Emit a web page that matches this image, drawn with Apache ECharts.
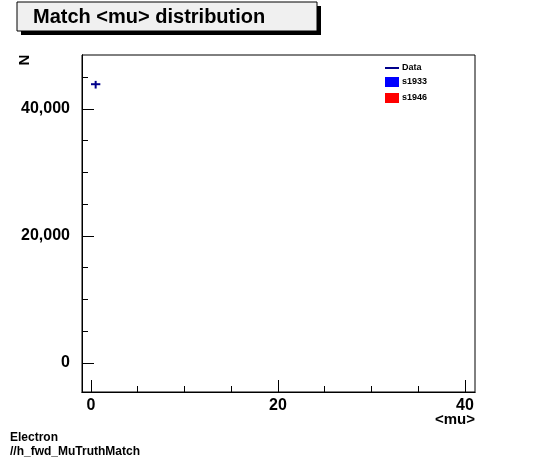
<!DOCTYPE html>
<html><head><meta charset="utf-8">
<script src="https://cdn.jsdelivr.net/npm/echarts@6/dist/echarts.min.js"></script>
<style>html,body{margin:0;padding:0;background:#fff}#c{width:546px;height:462px}</style>
</head><body><div id="c"></div>
<script>
const binLow = [0];
const binHigh = [1];
const dataValues = [43900];
const dataErr = [210];
const xMajor = [0, 20, 40];
const xMinor = [0, 5, 10, 15, 20, 25, 30, 35, 40];
const yMajor = [0, 20000, 40000];
const yMinor = [0, 5000, 10000, 15000, 20000, 25000, 30000, 35000, 40000, 45000];
const legendNames = ['Data', 's1933', 's1946'];

const XMIN = -0.96, XMAX = 41.07, YMIN = -4570, YMAX = 48500;
const font = 'Liberation Sans, Arial, sans-serif';
const chart = echarts.init(document.getElementById('c'));
function xAx(ticks, len, labels) {
  return { type: 'value', min: XMIN, max: XMAX, position: 'bottom',
    axisLine: { show: true, onZero: false, lineStyle: { color: '#000' } },
    axisTick: { show: true, inside: true, length: len, customValues: ticks, lineStyle: { color: '#000' } },
    axisLabel: { show: labels, customValues: ticks, color: '#000', fontSize: 16, fontWeight: 'bold', fontFamily: font, margin: 6 },
    splitLine: { show: false } };
}
function yAx(ticks, len, labels) {
  return { type: 'value', min: YMIN, max: YMAX, position: 'left',
    axisLine: { show: true, onZero: false, lineStyle: { color: '#000' } },
    axisTick: { show: true, inside: true, length: len, customValues: ticks, lineStyle: { color: '#000' } },
    axisLabel: { show: labels, customValues: ticks, color: '#000', fontSize: 16, fontWeight: 'bold', fontFamily: font, margin: 12 },
    splitLine: { show: false } };
}
const pts = binLow.map((l, i) => [l, binHigh[i], dataValues[i], dataErr[i]]);
chart.setOption({
  animation: false,
  grid: { left: 82, top: 55, right: 71, bottom: 70, show: true, borderColor: '#000', borderWidth: 1 },
  xAxis: [xAx(xMajor, 12, true), xAx(xMinor, 6, false)],
  yAxis: [yAx(yMajor, 12, true), yAx(yMinor, 6, false)],
  series: [{
    type: 'custom', xAxisIndex: 0, yAxisIndex: 0, data: pts,
    renderItem: function (params, api) {
      const a = api.coord([api.value(0), api.value(2)]);
      const b = api.coord([api.value(1), api.value(2)]);
      const m = (a[0] + b[0]) / 2;
      const t = api.coord([0, api.value(2) + api.value(3)]);
      const d = api.coord([0, api.value(2) - api.value(3)]);
      const st = { stroke: '#00008b', lineWidth: 2 };
      return { type: 'group', children: [
        { type: 'line', shape: { x1: a[0], y1: a[1], x2: b[0], y2: b[1] }, style: st },
        { type: 'line', shape: { x1: m, y1: t[1] - 2, x2: m, y2: d[1] + 3 }, style: st }
      ] };
    }
  }],
  graphic: [
    { type: 'rect', shape: { x: 21, y: 6, width: 300, height: 29 }, style: { fill: '#000' } },
    { type: 'rect', shape: { x: 17, y: 2, width: 300, height: 29 }, style: { fill: '#f0f0f0', stroke: '#000', lineWidth: 1 } },
    { type: 'text', x: 33, y: 17, style: { text: 'Match <mu> distribution', font: 'bold 20px ' + font, fill: '#000', verticalAlign: 'middle' } },
    { type: 'text', x: 25, y: 60, rotation: Math.PI / 2, style: { text: 'N', font: 'bold 15px ' + font, fill: '#000', verticalAlign: 'middle', align: 'center' } },
    { type: 'text', x: 475, y: 420, style: { text: '<mu>', font: 'bold 15px ' + font, fill: '#000', align: 'right', verticalAlign: 'middle' } },
    { type: 'text', x: 10, y: 438, style: { text: 'Electron', font: 'bold 12px ' + font, fill: '#000', verticalAlign: 'middle' } },
    { type: 'text', x: 10, y: 452, style: { text: '//h_fwd_MuTruthMatch', font: 'bold 12px ' + font, fill: '#000', verticalAlign: 'middle' } },
    { type: 'line', shape: { x1: 385, y1: 68, x2: 399, y2: 68 }, style: { stroke: '#00008b', lineWidth: 2 } },
    { type: 'rect', shape: { x: 385, y: 77, width: 14, height: 10 }, style: { fill: '#0000ff' } },
    { type: 'rect', shape: { x: 385, y: 93, width: 14, height: 10 }, style: { fill: '#ff0000' } },
    { type: 'text', x: 402, y: 68, style: { text: legendNames[0], font: 'bold 9px ' + font, fill: '#000', verticalAlign: 'middle' } },
    { type: 'text', x: 402, y: 82, style: { text: legendNames[1], font: 'bold 9px ' + font, fill: '#000', verticalAlign: 'middle' } },
    { type: 'text', x: 402, y: 98, style: { text: legendNames[2], font: 'bold 9px ' + font, fill: '#000', verticalAlign: 'middle' } }
  ]
});
</script></body></html>
